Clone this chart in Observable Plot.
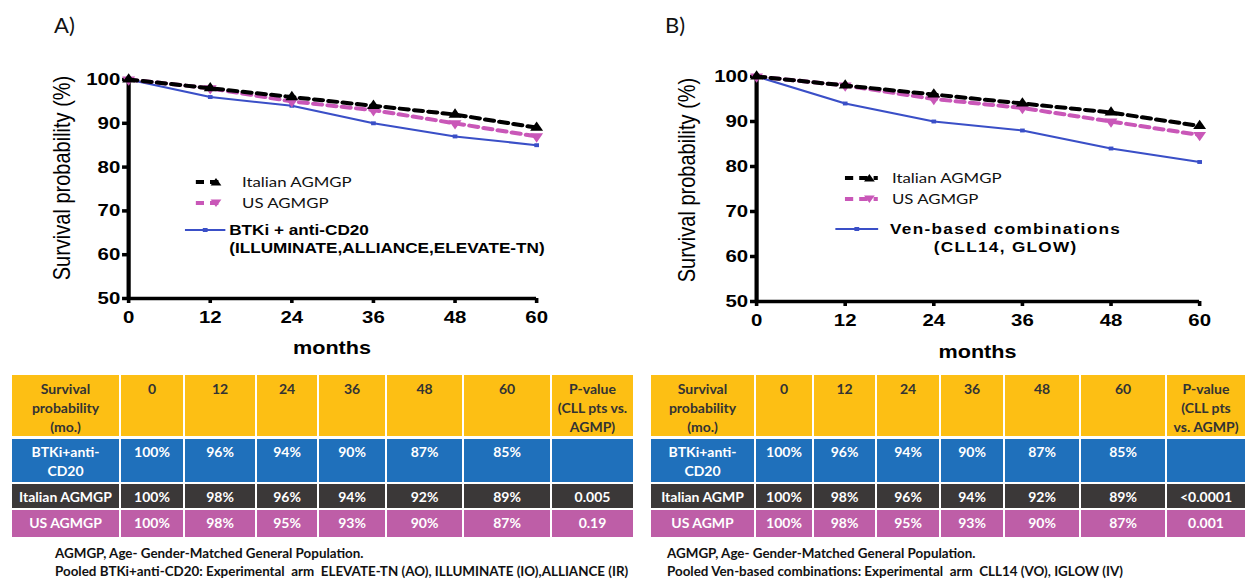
<!DOCTYPE html>
<html><head><meta charset="utf-8">
<script src="https://cdn.jsdelivr.net/npm/d3@7"></script>
<script src="https://cdn.jsdelivr.net/npm/@observablehq/plot@0.6"></script>
<style>
body{margin:0;background:#fff;}
#root{position:relative;width:1246px;height:582px;overflow:hidden;font-family:Lato,"Noto Sans",sans-serif;}
.stretch{position:absolute;top:0;height:370px;transform-origin:0 0;transform:scaleX(1.2);}
.stretch svg{position:absolute;left:0;top:0;}
.abs{position:absolute;white-space:nowrap;}
.ytitle{font-family:"Liberation Sans",Arial,sans-serif;font-size:20px;color:#000;transform:translate(-50%,-50%) rotate(-90deg);}
.xtitle{font-family:"Liberation Sans",Arial,sans-serif;font-size:18px;font-weight:bold;color:#000;transform:translate(-50%,-50%);}
.leg1{font-family:Lato,sans-serif;font-size:14px;color:#111;line-height:18px;}
.leg2{font-family:"Liberation Sans",Arial,sans-serif;font-size:14.3px;font-weight:bold;color:#000;line-height:18px;}
.panel{font-family:Lato,sans-serif;font-size:22px;color:#111;}
.cell{position:absolute;box-sizing:border-box;text-align:center;font-family:Lato,sans-serif;font-weight:bold;font-size:14px;line-height:19px;padding-top:3px;white-space:nowrap;}
.foot{position:absolute;font-family:Lato,sans-serif;font-weight:bold;font-size:13.4px;color:#111;white-space:pre;line-height:18px;}
</style></head>
<body><div id="root"></div>
<script>
// ---------- data ----------
const months = [0, 12, 24, 36, 48, 60];
const yTicks = [50, 60, 70, 80, 90, 100];
const italianAGMGP = [100, 98, 96, 94, 92, 89];
const usAGMGP = [100, 98, 95, 93, 90, 87];
const btkiAntiCD20 = [100, 96, 94, 90, 87, 85];
const venBased = [100, 94, 90, 88, 84, 81];
const legendA = ["Italian AGMGP", "US AGMGP", "BTKi + anti-CD20", "(ILLUMINATE,ALLIANCE,ELEVATE-TN)"];
const legendB = ["Italian AGMGP", "US AGMGP", "Ven-based combinations", "(CLL14, GLOW)"];
const headerA = [["Survival","probability","(mo.)"],["0"],["12"],["24"],["36"],["48"],["60"],["P-value","(CLL pts vs.","AGMP)"]];
const headerB = [["Survival","probability","(mo.)"],["0"],["12"],["24"],["36"],["48"],["60"],["P-value","(CLL pts","vs. AGMP)"]];
const rowLabelsA = [["BTKi+anti-","CD20"],["Italian AGMGP"],["US AGMGP"]];
const rowLabelsB = [["BTKi+anti-","CD20"],["Italian AGMP"],["US AGMP"]];
const pValuesA = ["", "0.005", "0.19"];
const pValuesB = ["", "<0.0001", "0.001"];
const footA = ["AGMGP, Age- Gender-Matched General Population.",
  "Pooled BTKi+anti-CD20: Experimental  arm  ELEVATE-TN (AO), ILLUMINATE (IO),ALLIANCE (IR)"];
const footB = ["AGMGP, Age- Gender-Matched General Population.",
  "Pooled Ven-based combinations: Experimental  arm  CLL14 (VO), IGLOW (IV)"];

// ---------- styles ----------
const C = {black:"#000", pink:"#c957b8", blue:"#3a4fc7",
  yellow:"#fdbf14", tblue:"#1f70bb", dark:"#3b3838", tpink:"#be5ea7"};
const root = document.getElementById("root");

function rows(vals, series){ return months.map((m,i)=>({month:m, value:vals[i], series})); }

function chart(cll, w, h, mL, mR, mT, mB){
  const it = rows(italianAGMGP,"Italian"), us = rows(usAGMGP,"US"), c = rows(cll,"CLL");
  return Plot.plot({
    width:w, height:h, marginLeft:mL, marginRight:mR, marginTop:mT, marginBottom:mB,
    x:{domain:[0,60]}, y:{domain:[50,100]},
    style:{background:"transparent", overflow:"visible", fontFamily:"Liberation Sans, Arial, sans-serif", color:"#000"},
    marks:[
      Plot.axisY({ticks:yTicks, tickSize:5, tickPadding:2, fontSize:17, fontWeight:"bold", strokeWidth:3.5, label:null, tickFormat:d=>String(d)}),
      Plot.axisX({ticks:months, tickSize:5, tickPadding:7, fontSize:17, fontWeight:"bold", strokeWidth:3, label:null, tickFormat:d=>String(d)}),
      Plot.ruleX([0], {y1:50, y2:100, stroke:C.black, strokeWidth:3.5}),
      Plot.ruleY([50], {x1:0, x2:60, stroke:C.black, strokeWidth:3.5}),
      Plot.line(c, {x:"month", y:"value", stroke:C.blue, strokeWidth:2}),
      Plot.dot(c, {x:"month", y:"value", symbol:"square", r:2.2, fill:C.blue}),
      Plot.line(us, {x:"month", y:"value", stroke:C.pink, strokeWidth:4, strokeDasharray:"7,5"}),
      Plot.dot(us, {x:"month", y:"value", symbol:"triangle", rotate:180, r:4, fill:C.pink}),
      Plot.line(it, {x:"month", y:"value", stroke:C.black, strokeWidth:4, strokeDasharray:"7,5"}),
      Plot.dot(it, {x:"month", y:"value", symbol:"triangle", r:4, fill:C.black})
    ]
  });
}

function el(parent, cls, html, style){
  const d = document.createElement("div");
  d.className = cls; d.innerHTML = html; Object.assign(d.style, style); parent.appendChild(d); return d;
}

function swatch(kind, w){
  const h = 12, cy = 6;
  if (kind === "blue")
    return `<svg width="${w}" height="${h}"><line x1="0" x2="${w}" y1="${cy}" y2="${cy}" stroke="${C.blue}" stroke-width="2"/><rect x="${w/2-2}" y="${cy-2}" width="4" height="4" fill="${C.blue}"/></svg>`;
  const col = kind === "it" ? C.black : C.pink;
  const tx = w - 7;
  const tri = kind === "it" ? `M${tx-4.5},${cy+3.5}L${tx+4.5},${cy+3.5}L${tx},${cy-4}Z` : `M${tx-4.5},${cy-3.5}L${tx+4.5},${cy-3.5}L${tx},${cy+4}Z`;
  return `<svg width="${w}" height="${h}"><line x1="0" x2="${w}" y1="${cy}" y2="${cy}" stroke="${col}" stroke-width="4" stroke-dasharray="7,5"/><path d="${tri}" fill="${col}"/></svg>`;
}

function panel(cfg){
  const box = el(root, "stretch", "", {left:cfg.left+"px", width:cfg.w+"px"});
  box.appendChild(chart(cfg.cll, cfg.w, 370, cfg.mL, cfg.mR, cfg.mT, cfg.mB));
  el(box, "abs ytitle", "Survival probability (%)", {left:cfg.yt[0]+"px", top:cfg.yt[1]+"px"});
  el(box, "abs xtitle", "months", {left:cfg.xt[0]+"px", top:cfg.xt[1]+"px"});
  const L = cfg.leg;
  el(box, "abs", swatch("it", L.sw1), {left:L.s1+"px", top:(L.y1-6)+"px"});
  el(box, "abs leg1", cfg.labels[0], {left:L.t1+"px", top:(L.y1-9)+"px"});
  el(box, "abs", swatch("us", L.sw1), {left:L.s1+"px", top:(L.y2-6)+"px"});
  el(box, "abs leg1", cfg.labels[1], {left:L.t1+"px", top:(L.y2-9)+"px"});
  el(box, "abs", swatch("blue", L.sw2), {left:L.s2+"px", top:(L.y3-6)+"px"});
  el(box, "abs leg2", cfg.labels[2] + "<br>" + cfg.labels[3],
     Object.assign({left:L.t2+"px", top:(L.y3-9)+"px", textAlign:L.align}, L.extra||{}));
}

panel({left:0, w:517, cll:btkiAntiCD20, mL:106.7, mR:70.3, mT:79, mB:72,
  yt:[51.7,178], xt:[276.7,348], labels:legendA,
  leg:{s1:162.5, sw1:24, t1:201.7, s2:154, sw2:34, t2:191, y1:182, y2:203, y3:230, align:"left"}});
panel({left:630, w:513, cll:venBased, mL:105, mR:38.8, mT:76, mB:69,
  yt:[48.3,180], xt:[289.6,352], labels:legendB,
  leg:{s1:179, sw1:27.5, t1:218.3, s2:171, sw2:36, t2:216.7, y1:178, y2:199, y3:229, align:"center",
       extra:{letterSpacing:"1.1px"}}});

el(root, "abs panel", "A)", {left:"54px", top:"11px"});
el(root, "abs panel", "B)", {left:"665px", top:"11px"});

// ---------- tables ----------
function table(edges, header, labels, pv, foot, footLeft){
  const rowEdges = [[375,436],[439,482],[484,508],[510,537]];
  const bg = [C.yellow, C.tblue, C.dark, C.tpink];
  const fg = ["#333", "#fff", "#fff", "#fff"];
  const body = [btkiAntiCD20, italianAGMGP, usAGMGP];
  for (let r = 0; r < 4; r++){
    for (let c = 0; c < 8; c++){
      let lines;
      if (r === 0) lines = header[c];
      else if (c === 0) lines = labels[r-1];
      else if (c === 7) lines = [pv[r-1]];
      else lines = [body[r-1][c-1] + "%"];
      el(root, "cell", lines.join("<br>"), {
        left:(edges[c]+1)+"px", width:(edges[c+1]-edges[c]-2)+"px",
        top:rowEdges[r][0]+"px", height:(rowEdges[r][1]-rowEdges[r][0])+"px",
        background:bg[r], color:fg[r], paddingTop:(r===0?4:3)+"px"});
    }
  }
  el(root, "foot", foot[0], {left:footLeft+"px", top:"544px"});
  el(root, "foot", foot[1], {left:footLeft+"px", top:"562px"});
}
table([11,120,184,256,318,386,463,551,634], headerA, rowLabelsA, pValuesA, footA, 55);
table([650,755,813,876,940,1004,1080,1166,1246], headerB, rowLabelsB, pValuesB, footB, 667);
</script>
</body></html>
